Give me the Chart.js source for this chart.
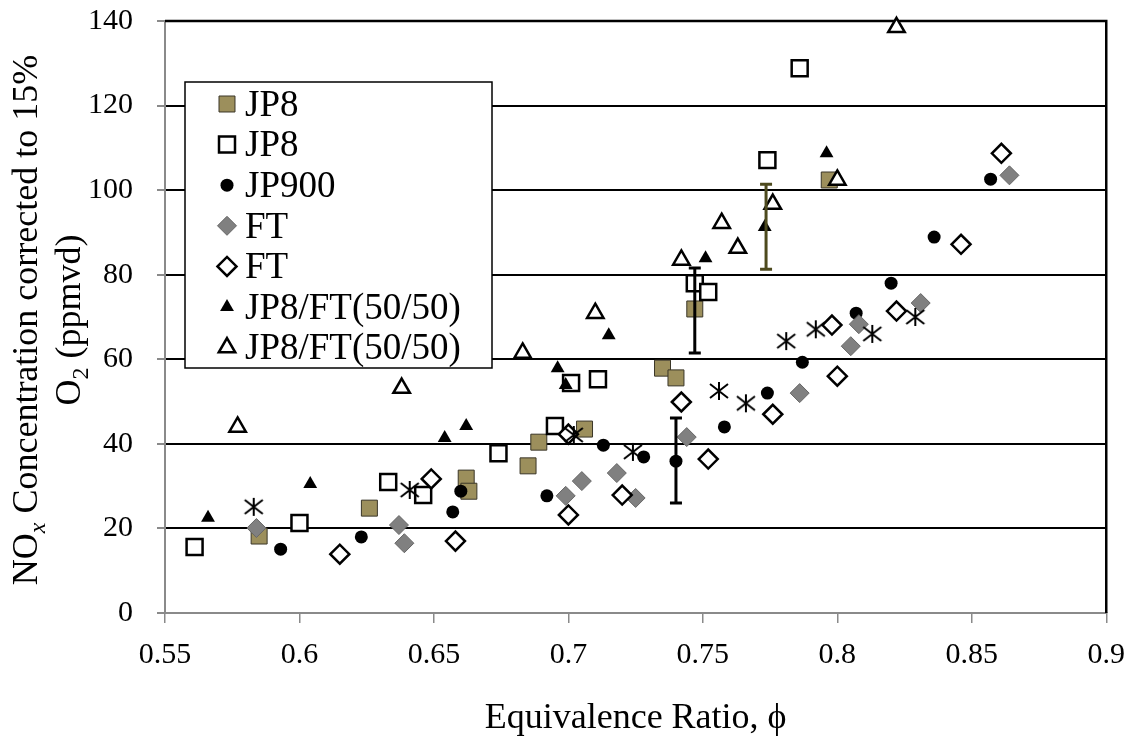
<!DOCTYPE html>
<html>
<head>
<meta charset="utf-8">
<script src="https://cdn.jsdelivr.net/npm/chart.js@4.4.0/dist/chart.umd.min.js"></script>
<style>
  html, body { margin: 0; padding: 0; background: #fff; }
</style>
</head>
<body>
<canvas id="noxChart" width="1139" height="742"></canvas>
<script>
// values
const jp8FilledX = [0.585, 0.626, 0.662, 0.663, 0.685, 0.689, 0.706, 0.735, 0.740, 0.747, 0.797];
const jp8FilledY = [18.2, 24.8, 31.9, 28.8, 34.8, 40.4, 43.5, 57.9, 55.6, 71.9, 102.4];

const jp8OpenX = [0.561, 0.600, 0.633, 0.646, 0.674, 0.695, 0.701, 0.711, 0.747, 0.752, 0.774, 0.786];
const jp8OpenY = [15.6, 21.3, 31.0, 27.9, 37.8, 44.2, 54.4, 55.3, 78.0, 75.9, 107.1, 128.8];

const jp900X = [0.593, 0.623, 0.657, 0.660, 0.692, 0.713, 0.728, 0.740, 0.758, 0.774, 0.787, 0.807, 0.820, 0.836, 0.857];
const jp900Y = [15.1, 18.0, 23.9, 28.8, 27.7, 39.7, 36.9, 35.9, 44.0, 52.0, 59.3, 70.9, 78.0, 88.9, 102.6];

const ftFilledX = [0.584, 0.637, 0.639, 0.699, 0.705, 0.718, 0.725, 0.744, 0.786, 0.805, 0.808, 0.831, 0.864];
const ftFilledY = [20.1, 20.8, 16.5, 27.7, 31.2, 33.1, 27.2, 41.6, 52.0, 63.1, 68.3, 73.3, 103.5];

const ftOpenX = [0.615, 0.649, 0.658, 0.700, 0.700, 0.720, 0.742, 0.752, 0.776, 0.798, 0.800, 0.822, 0.846, 0.861];
const ftOpenY = [13.9, 31.7, 17.0, 23.2, 42.3, 27.9, 49.9, 36.4, 47.0, 68.1, 56.0, 71.4, 87.2, 108.7];

const blendFilledX = [0.566, 0.604, 0.654, 0.662, 0.696, 0.699, 0.715, 0.751, 0.773, 0.796];
const blendFilledY = [22.5, 30.5, 41.4, 44.2, 57.9, 53.9, 65.7, 83.9, 91.3, 108.7];

const blendOpenX = [0.577, 0.638, 0.683, 0.710, 0.742, 0.757, 0.763, 0.776, 0.800, 0.822];
const blendOpenY = [44.0, 53.2, 61.5, 70.9, 83.5, 92.2, 86.3, 96.7, 102.4, 138.5];

// unlabelled asterisk series
const starX = [0.583, 0.641, 0.702, 0.724, 0.756, 0.766, 0.781, 0.792, 0.813, 0.829];
const starY = [25.1, 29.1, 42.1, 38.1, 52.5, 49.6, 64.3, 67.1, 66.0, 70.0];

// error bars
const errX = [0.740, 0.747, 0.7735];
const errLow = [26.0, 61.5, 81.3];
const errHigh = [46.1, 81.6, 101.4];

const xTicks = [0.55, 0.6, 0.65, 0.7, 0.75, 0.8, 0.85, 0.9];
const yTicks = [0, 20, 40, 60, 80, 100, 120, 140];

const xTitle = 'Equivalence Ratio, \u03D5';
const yTitle1 = [{ t: 'NO' }, { t: 'x', sub: true }, { t: ' Concentration corrected to 15%' }];
const yTitle2 = [{ t: 'O' }, { t: '2', sub: true }, { t: ' (ppmvd)' }];

const serif = "'Liberation Serif', 'Times New Roman', serif";
const olive = '#9c8f5c';
const errColors = ['#000', '#000', '#4d4a1e'];

function pts(xs, ys) {
  return xs.map((x, i) => ({ x: x, y: ys[i] }));
}

// asterisk marker (vertical stroke + X)
const star = document.createElement('canvas');
star.width = 22;
star.height = 22;
(function () {
  const c = star.getContext('2d');
  c.strokeStyle = '#000';
  c.lineWidth = 2;
  c.beginPath();
  c.moveTo(11, 2); c.lineTo(11, 20);
  c.moveTo(2, 4); c.lineTo(20, 18);
  c.moveTo(2, 18); c.lineTo(20, 4);
  c.stroke();
})();

const datasets = [
  { label: 'JP8', data: pts(jp8FilledX, jp8FilledY), pointStyle: 'rect', pointRadius: 11.3,
    backgroundColor: olive, borderColor: '#3a3628', borderWidth: 1 },
  { label: 'JP8', data: pts(jp8OpenX, jp8OpenY), pointStyle: 'rect', pointRadius: 11.3,
    backgroundColor: '#fff', borderColor: '#000', borderWidth: 2.5 },
  { label: 'JP900', data: pts(jp900X, jp900Y), pointStyle: 'circle', pointRadius: 6.5,
    backgroundColor: '#000', borderColor: '#000', borderWidth: 0 },
  { label: 'FT', data: pts(ftFilledX, ftFilledY), pointStyle: 'rectRot', pointRadius: 9.5,
    backgroundColor: '#808080', borderColor: '#666', borderWidth: 1 },
  { label: 'FT', data: pts(ftOpenX, ftOpenY), pointStyle: 'rectRot', pointRadius: 9.5,
    backgroundColor: '#fff', borderColor: '#000', borderWidth: 2.5 },
  { label: 'JP8/FT(50/50)', data: pts(blendFilledX, blendFilledY), pointStyle: 'triangle', pointRadius: 8,
    backgroundColor: '#000', borderColor: '#000', borderWidth: 0 },
  { label: 'JP8/FT(50/50)', data: pts(blendOpenX, blendOpenY), pointStyle: 'triangle', pointRadius: 9.5,
    backgroundColor: '#fff', borderColor: '#000', borderWidth: 2.5 },
  { label: '', data: pts(starX, starY), pointStyle: star, pointRadius: 10,
    backgroundColor: '#000', borderColor: '#000', borderWidth: 0 }
];
// later series drawn on top, like the spreadsheet
datasets.forEach((d, i) => {
  d.order = datasets.length - i;
  d.pointHoverRadius = d.pointRadius;
  d.clip = false;
});

function drawRich(ctx, parts, baseline, big, small) {
  let total = 0;
  parts.forEach(p => {
    ctx.font = p.sub ? small : big;
    p.w = ctx.measureText(p.t).width;
    total += p.w;
  });
  let x = -total / 2;
  parts.forEach(p => {
    ctx.font = p.sub ? small : big;
    ctx.fillText(p.t, x, baseline + (p.sub ? 8 : 0));
    x += p.w;
  });
}

const extras = {
  id: 'extras',
  beforeDatasetsDraw(chart) {
    const { ctx, chartArea: a } = chart;
    ctx.save();
    ctx.strokeStyle = '#000';
    ctx.lineWidth = 2.5;
    ctx.beginPath();
    ctx.moveTo(a.left, a.top);
    ctx.lineTo(a.right, a.top);
    ctx.lineTo(a.right, a.bottom);
    ctx.stroke();
    ctx.restore();
  },
  afterDatasetsDraw(chart) {
    const ctx = chart.ctx;
    const xs = chart.scales.x, ys = chart.scales.y;
    ctx.save();
    ctx.lineWidth = 3;
    errX.forEach((v, i) => {
      const px = xs.getPixelForValue(v);
      const lo = ys.getPixelForValue(errLow[i]);
      const hi = ys.getPixelForValue(errHigh[i]);
      ctx.strokeStyle = errColors[i];
      ctx.beginPath();
      ctx.moveTo(px, lo); ctx.lineTo(px, hi);
      ctx.moveTo(px - 6, lo); ctx.lineTo(px + 6, lo);
      ctx.moveTo(px - 6, hi); ctx.lineTo(px + 6, hi);
      ctx.stroke();
    });
    ctx.restore();
  },
  afterDraw(chart) {
    const ctx = chart.ctx;
    // legend box
    ctx.save();
    ctx.fillStyle = '#fff';
    ctx.fillRect(185, 82, 307, 286);
    ctx.strokeStyle = '#000';
    ctx.lineWidth = 1.5;
    ctx.strokeRect(185, 82, 307, 286);
    let k = 0;
    chart.data.datasets.forEach(d => {
      if (!d.label) return;
      const y = 104 + k * 40.6;
      ctx.fillStyle = d.backgroundColor;
      ctx.strokeStyle = d.borderColor;
      ctx.lineWidth = d.borderWidth;
      Chart.helpers.drawPoint(ctx, {
        pointStyle: d.pointStyle, radius: d.pointRadius, rotation: 0, borderWidth: d.borderWidth
      }, 227, y);
      ctx.fillStyle = '#000';
      ctx.font = '37px ' + serif;
      ctx.textBaseline = 'middle';
      ctx.textAlign = 'left';
      ctx.fillText(d.label, 245, y + 2);
      k++;
    });
    ctx.restore();

    // y axis title, two lines with subscripts
    ctx.save();
    ctx.translate(0, 320);
    ctx.rotate(-Math.PI / 2);
    ctx.fillStyle = '#000';
    ctx.textBaseline = 'alphabetic';
    ctx.textAlign = 'left';
    drawRich(ctx, yTitle1, 37, '36px ' + serif, 'italic 24px ' + serif);
    drawRich(ctx, yTitle2, 80, '36px ' + serif, '24px ' + serif);
    ctx.restore();
  }
};

new Chart(document.getElementById('noxChart'), {
  type: 'scatter',
  data: { datasets: datasets },
  options: {
    responsive: false,
    animation: false,
    layout: { autoPadding: false, padding: { top: 21, right: 29, left: 0, bottom: 0 } },
    plugins: {
      legend: { display: false },
      tooltip: { enabled: false }
    },
    scales: {
      x: {
        type: 'linear',
        min: 0.55,
        max: 0.9,
        afterBuildTicks(scale) { scale.ticks = xTicks.map(v => ({ value: v })); },
        afterFit(scale) { scale.height = 129; },
        ticks: {
          color: '#000',
          font: { family: serif, size: 30 },
          padding: 14,
          callback: v => String(+v.toFixed(2))
        },
        grid: { drawOnChartArea: false, tickLength: 10, tickColor: '#8a8a8a', lineWidth: 1.5 },
        border: { color: '#8a8a8a', width: 2 },
        title: {
          display: true,
          text: xTitle,
          color: '#000',
          font: { family: serif, size: 36 },
          padding: { top: 0, bottom: 2 }
        }
      },
      y: {
        min: 0,
        max: 140,
        afterBuildTicks(scale) { scale.ticks = yTicks.map(v => ({ value: v })); },
        afterFit(scale) { scale.width = 165; scale.paddingTop = 0; },
        ticks: {
          color: '#000',
          font: { family: serif, size: 30 },
          padding: 24
        },
        grid: {
          color: c => (c.tick && c.tick.value === 0 ? 'rgba(0,0,0,0)' : '#000'),
          lineWidth: 2,
          tickLength: 8,
          tickColor: '#8a8a8a'
        },
        border: { color: '#8a8a8a', width: 2 }
      }
    }
  },
  plugins: [extras]
});
</script>
</body>
</html>
